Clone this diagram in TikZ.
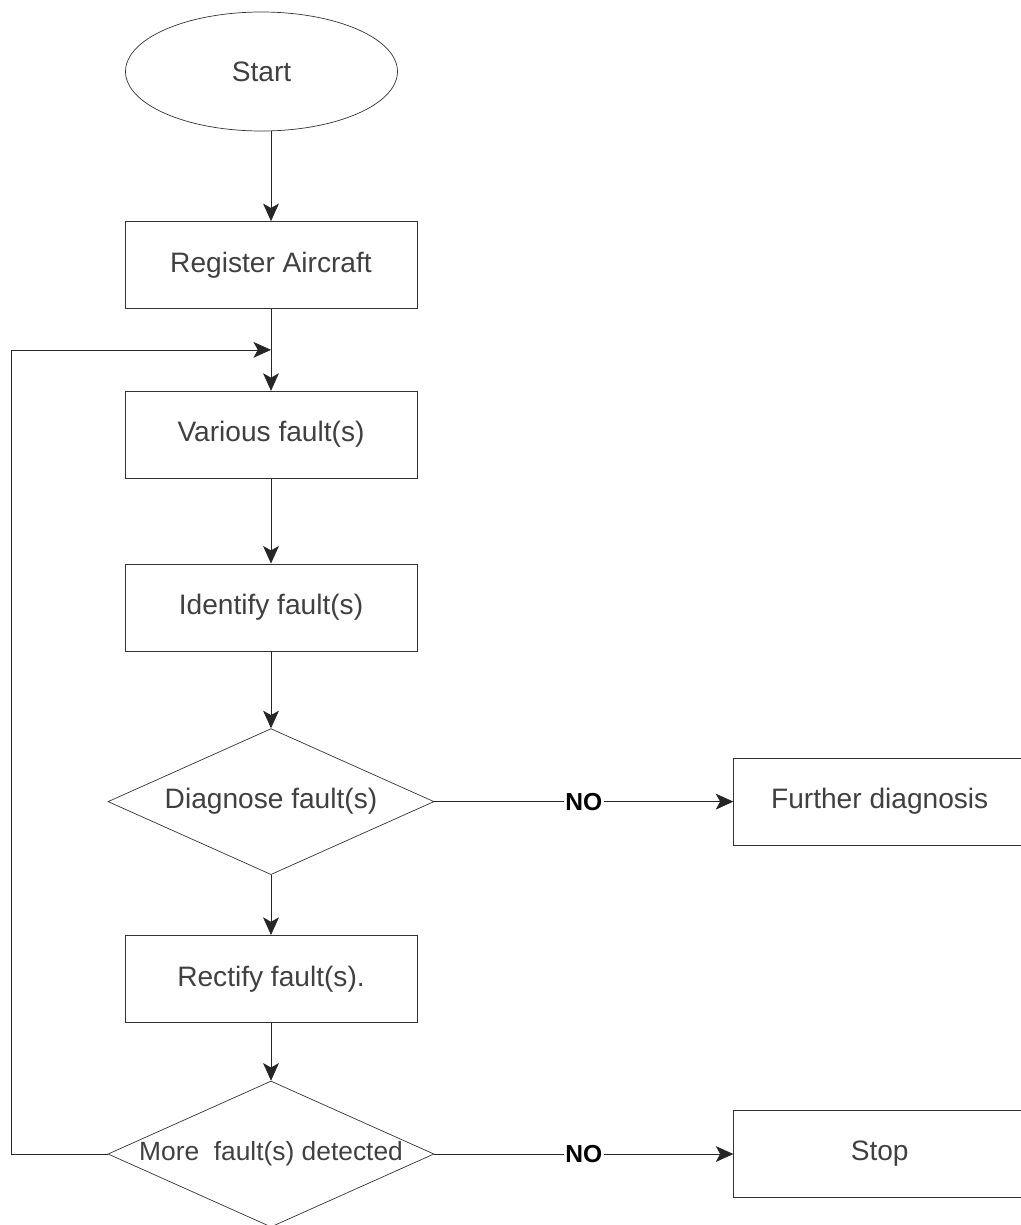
\documentclass[tikz,border=0pt]{standalone}
\usepackage{fontspec}
\setmainfont{Liberation Sans}
\usetikzlibrary{
  shapes.geometric, % Shapes "ellipse", "diamond"
  arrows.meta,
  positioning,      % Function "of" (e.g. [below=of x])
  calc,             % Calculations $...$
}
\def\myboxw{5.84cm}
\def\myboxh{1.74cm}
\tikzset{
  font=\fontsize{16}{19}\selectfont,
  line width=1.6pt,
  >={Stealth[length=10pt,width=9pt,inset=2.5pt]},
  my start/.style={
    ellipse,
    draw=black!80,
    text=black!75,
    minimum width=5.44cm,
    minimum height=2.38cm
  },
  my box/.style={
    rectangle,
    draw=black!80,
    text=black!75,
    minimum width=\myboxw,
    minimum height=\myboxh
  },
  my decision/.style={
    diamond,
    aspect=2.23,
    draw=black!80,
    text=black!75,
    inner sep=0pt,
    minimum width=6.52cm,
    minimum height=2.92cm
  },
  my line/.style={
    draw=black!85,
    ->
  },
  my no/.style={
    fill=white,
    inner sep=1pt,
    font=\fontsize{14}{16}\selectfont\bfseries
  }
}
\begin{document}
\begin{tikzpicture}
\useasboundingbox (0,0) rectangle (20.4,-24.5);
\node[my start]    (start)   at (5.23,-1.43)          {Start};
\node[my box]      (reg)     at (5.42,-5.3)           {Register Aircraft};
\node[my box]      (var)     [below=1.64cm of reg]    {Various fault(s)};
\node[my box]      (ident)   [below=1.7cm of var]     {Identify fault(s)};
\node[my decision] (diag)    [below=1.54cm of ident]  {Diagnose fault(s)};
\node[my box]      (further) [right=5.98cm of diag]   {Further diagnosis};
\node[my box]      (rect)    [below=1.2cm of diag]    {Rectify fault(s).};
\node[my decision,font=\fontsize{15}{18}\selectfont]
                   (more)    [below=1.16cm of rect]   {More\ \ fault(s) detected};
\node[my box]      (stop)    [right=5.98cm of more]   {Stop};
\coordinate (join) at ($(reg.south)!0.5!(var.north)$);
\coordinate (back) at ([xshift=-1.92cm]more.west);
\path[my line] (start.south -| reg) -- (reg);
\path[my line] (reg) -- (var);
\path[my line] (var) -- (ident);
\path[my line] (ident) -- (diag);
\path[my line] (diag) -- (rect);
\path[my line] (rect) -- (more);
\path[my line] (diag) -- node[my no] {NO} (further);
\path[my line] (more) -- node[my no] {NO} (stop);
\path[my line] (more.west) -- (back) |- (join);
\end{tikzpicture}
\end{document}
